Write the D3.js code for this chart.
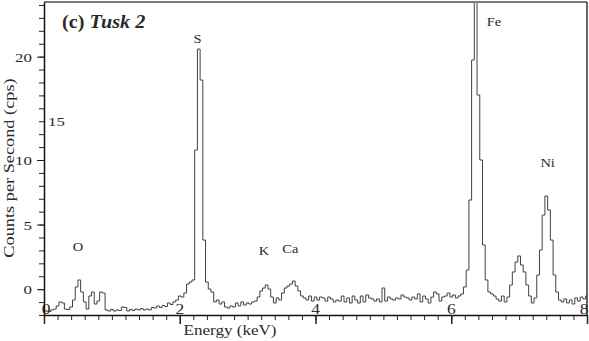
<!DOCTYPE html>
<html>
<head>
<meta charset="utf-8">
<script src="https://cdn.jsdelivr.net/npm/d3@7"></script>
<style>
  body { margin: 0; background: #fff; }
  text { font-family: "Liberation Serif", "Times New Roman", serif; fill: #2a2a2a; }
</style>
</head>
<body>
<div id="chart"></div>
<script>
// EDS spectrum, one value per 0.04 keV channel starting at 0 keV
var channelStart = 0;
var channelWidth = 0.04;
var counts = [
  0.27, 0.31, 0.27, 0.39, 0.46, 0.70, 1.01, 0.93, 0.46, 0.43,
  0.62, 1.16, 2.17, 2.71, 1.78, 1.01, 0.46, 1.47, 1.78, 0.85,
  1.08, 1.78, 1.70, 0.39, 0.31, 0.43, 0.31, 0.39, 0.35, 0.62,
  0.58, 0.31, 0.43, 0.35, 0.46, 0.39, 0.50, 0.39, 0.46, 0.39,
  0.58, 0.54, 0.70, 0.58, 0.74, 0.66, 0.93, 0.81, 1.01, 1.16,
  1.47, 1.39, 1.70, 2.40, 2.55, 2.71, 12.77, 20.59, 18.19, 5.80,
  2.55, 2.01, 1.78, 1.01, 1.16, 0.85, 1.01, 0.62, 0.54, 0.70,
  0.62, 0.93, 0.70, 1.01, 0.77, 0.93, 0.85, 1.01, 1.08, 1.39,
  1.86, 2.09, 2.32, 2.01, 1.39, 0.93, 1.32, 1.16, 1.70, 2.09,
  2.24, 2.40, 2.63, 2.24, 1.86, 1.47, 1.32, 1.16, 1.47, 1.08,
  1.39, 1.16, 1.39, 1.32, 1.08, 1.39, 1.24, 1.01, 1.16, 1.08,
  1.47, 1.01, 1.32, 0.93, 1.47, 1.16, 0.93, 1.47, 1.01, 1.55,
  1.32, 1.24, 1.08, 1.24, 1.01, 2.09, 1.08, 1.39, 1.24, 1.16,
  1.32, 1.24, 1.55, 1.39, 1.32, 1.16, 1.39, 1.24, 1.63, 1.01,
  1.47, 1.24, 0.93, 1.39, 1.78, 1.63, 1.08, 1.39, 1.47, 1.70,
  1.39, 1.55, 1.32, 1.47, 1.63, 2.17, 3.48, 8.90, 19.74, 25.0,
  17.03, 12.00, 5.42, 2.71, 1.78, 1.63, 1.47, 1.24, 1.08, 1.47,
  1.01, 1.39, 2.32, 3.33, 4.10, 4.57, 3.87, 3.33, 2.32, 1.47,
  0.93, 1.32, 3.10, 5.03, 7.74, 9.21, 8.13, 5.80, 3.10, 1.78,
  1.16, 1.01, 1.24, 0.93, 1.16, 0.85, 1.32, 1.08, 1.39, 1.24,
  1.47
];

var xMajorTicks = [0, 2, 4, 6, 8];
var xTickLabels = ["0", "2", "4", "6", "8"];
// the printed axis labels sit on these tick marks
var yLabelTicks = [2, 7, 12, 15, 20];
var yTickLabels = ["0", "5", "10", "15", "20"];

var peakNames = ["O", "S", "K", "Ca", "Fe", "Ni"];
var peakLabelEnergy = [0.50, 2.26, 3.24, 3.63, 6.63, 7.42];
var peakLabelCounts = [4.95, 21.05, 4.64, 4.80, 22.37, 11.46];

var width = 589, height = 341;
var plot = { left: 44, right: 587, top: 2, bottom: 315 };

var svg = d3.select("#chart").append("svg")
    .attr("width", width)
    .attr("height", height);

var x = d3.scaleLinear().domain([0, 8]).range([plot.left, plot.right]);
var y = d3.scaleLinear().domain([0, 24.23]).range([plot.bottom, plot.top]);

// text in the scan is drawn wide, so stretch it sideways
function wideText(sel, px, py, sx, rot) {
  return sel.append("text")
      .attr("transform", "translate(" + px + "," + py + ")" +
        (rot ? " rotate(" + rot + ")" : "") + " scale(" + sx + ",1)");
}

svg.append("clipPath").attr("id", "plotClip")
  .append("rect")
    .attr("x", plot.left).attr("y", plot.top)
    .attr("width", plot.right - plot.left)
    .attr("height", plot.bottom - plot.top);

var line = d3.line()
    .x(function(d, i) { return x(channelStart + i * channelWidth); })
    .y(function(d) { return y(d); })
    .curve(d3.curveStep);

svg.append("path")
    .datum(counts)
    .attr("clip-path", "url(#plotClip)")
    .attr("d", line)
    .attr("fill", "none")
    .attr("stroke", "#404040")
    .attr("stroke-width", 1);

// frame: top and right edges
svg.append("line")
    .attr("x1", plot.left).attr("x2", plot.right)
    .attr("y1", plot.top).attr("y2", plot.top)
    .attr("stroke", "#7a7a7a").attr("stroke-width", 2);
svg.append("line")
    .attr("x1", plot.right).attr("x2", plot.right)
    .attr("y1", plot.top).attr("y2", plot.bottom)
    .attr("stroke", "#333").attr("stroke-width", 1.5);

// x axis: minor ticks every 0.2 keV, longer ones every 2 keV
svg.append("g")
    .attr("transform", "translate(0," + plot.bottom + ")")
    .call(d3.axisBottom(x).tickValues(d3.range(0, 41).map(function(i) { return i * 0.2; }))
      .tickSize(5).tickSizeOuter(0).tickFormat(""))
    .call(function(g) {
      g.select(".domain").attr("stroke", "#111").attr("stroke-width", 1.5);
      g.selectAll(".tick line").attr("stroke", "#222");
    });
svg.append("g")
    .attr("transform", "translate(0," + plot.bottom + ")")
    .call(d3.axisBottom(x).tickValues(xMajorTicks).tickSize(9).tickFormat(""))
    .call(function(g) {
      g.select(".domain").remove();
      g.selectAll(".tick line").attr("stroke", "#222").attr("stroke-width", 1.5);
    });

xMajorTicks.forEach(function(v, i) {
  var nudge = i === 0 ? 2 : (i === xMajorTicks.length - 1 ? -3 : 0);
  wideText(svg, x(v) + nudge, plot.bottom - 1, 1.25)
      .attr("text-anchor", "middle")
      .style("font-size", "14px")
      .text(xTickLabels[i]);
});

// y axis: a tick every unit
svg.append("g")
    .attr("transform", "translate(" + plot.left + ",0)")
    .call(d3.axisLeft(y).tickValues(d3.range(0, 25)).tickSize(5).tickSizeOuter(0).tickFormat(""))
    .call(function(g) {
      g.select(".domain").attr("stroke", "#111").attr("stroke-width", 1.5);
      g.selectAll(".tick line").attr("stroke", "#222");
    });
svg.append("g")
    .attr("transform", "translate(" + plot.left + ",0)")
    .call(d3.axisLeft(y).tickValues(yLabelTicks.filter(function(v, i) { return yTickLabels[i] !== "15"; }))
      .tickSize(7).tickFormat(""))
    .call(function(g) {
      g.select(".domain").remove();
      g.selectAll(".tick line").attr("stroke", "#222");
    });

yLabelTicks.forEach(function(v, i) {
  var inside = yTickLabels[i] === "15";
  wideText(svg, inside ? plot.left + 4 : plot.left - 12, y(v) + 5, 1.3)
      .attr("text-anchor", inside ? "start" : "end")
      .style("font-size", "13px")
      .text(yTickLabels[i]);
});

// axis titles
wideText(svg, 230, 335, 1.22)
    .attr("text-anchor", "middle")
    .style("font-size", "14px")
    .text("Energy (keV)");

wideText(svg, 14, 168, 1.22, -90)
    .attr("text-anchor", "middle")
    .style("font-size", "15px")
    .text("Counts per Second (cps)");

// panel title
var title = wideText(svg, 62, 28, 1.12)
    .style("font-size", "18px")
    .style("font-weight", "bold");
title.append("tspan").text("(c) ");
title.append("tspan").style("font-style", "italic").text("Tusk 2");

// element labels over the peaks
peakNames.forEach(function(name, i) {
  wideText(svg, x(peakLabelEnergy[i]), y(peakLabelCounts[i]), 1.07)
      .attr("text-anchor", "middle")
      .style("font-size", "13.5px")
      .text(name);
});
</script>
</body>
</html>
